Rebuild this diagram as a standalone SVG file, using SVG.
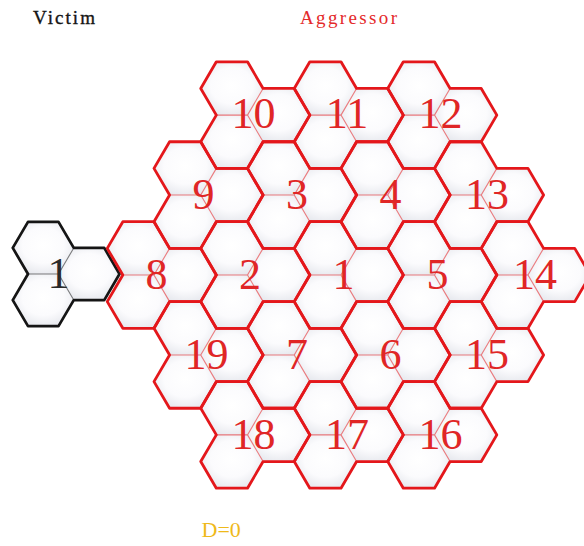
<svg xmlns="http://www.w3.org/2000/svg" xmlns:xlink="http://www.w3.org/1999/xlink" width="584" height="546" viewBox="0 0 584 546">
  <style>
    .outline { fill: none; stroke: currentColor; stroke-width: 2.8; stroke-linejoin: round; }
    .inner { fill: none; stroke: currentColor; stroke-width: 1.1; opacity: 0.55; }
    .red { color: #e4171b; }
    .black { color: #151515; }
    .num { font-family: "Liberation Serif", "Times New Roman", serif; font-size: 44px; text-anchor: middle; fill: #e02626; }
    .num.v { fill: #2a2a2a; }
    .label { font-family: "Liberation Serif", "Times New Roman", serif; font-size: 19px; }
  </style>
  <defs>
    <radialGradient id="cellShade" cx="50%" cy="45%" r="62%">
      <stop offset="0" stop-color="#ffffff"/>
      <stop offset="0.55" stop-color="#fbfbfd"/>
      <stop offset="1" stop-color="#e3e5eb"/>
    </radialGradient>
    <!-- three-sector site: origin at the common vertex of the three hexagons -->
    <g id="tri-fill" fill="url(#cellShade)">
      <polygon points="-46.755,-26.65 -31.17,-53.3 0,-53.3 15.585,-26.65 0,0 -31.17,0"/>
      <polygon points="-46.755,26.65 -31.17,0 0,0 15.585,26.65 0,53.3 -31.17,53.3"/>
      <polygon points="0,0 15.585,-26.65 46.755,-26.65 62.34,0 46.755,26.65 15.585,26.65"/>
    </g>
    <g id="tri-edges">
      <path class="inner" d="M-31.17,0 H0 M15.585,-26.65 L0,0 L15.585,26.65"/>
      <path class="outline" d="M-31.17,-53.3 H0 L15.585,-26.65 H46.755 L62.34,0 L46.755,26.65 H15.585 L0,53.3 H-31.17 L-46.755,26.65 L-31.17,0 L-46.755,-26.65 Z"/>
    </g>
  </defs>

  <rect width="584" height="546" fill="#ffffff"/>

  <text class="label" x="33" y="24" textLength="62" lengthAdjust="spacing" fill="#151515" stroke="#151515" stroke-width="0.35">Victim</text>
  <text class="label" x="300" y="24" textLength="97" lengthAdjust="spacing" fill="#e42a2a">Aggressor</text>

  <!-- shading of every cell, drawn underneath all outlines -->
  <g id="cell-fills">
    <use xlink:href="#tri-fill" transform="translate(58.5,274) scale(0.9785)"/>
    <use xlink:href="#tri-fill" transform="translate(247.5,115.1)"/>
    <use xlink:href="#tri-fill" transform="translate(341,115.1)"/>
    <use xlink:href="#tri-fill" transform="translate(434.5,115.1)"/>
    <use xlink:href="#tri-fill" transform="translate(200.75,195.05)"/>
    <use xlink:href="#tri-fill" transform="translate(294.25,195.05)"/>
    <use xlink:href="#tri-fill" transform="translate(387.75,195.05)"/>
    <use xlink:href="#tri-fill" transform="translate(481.25,195.05)"/>
    <use xlink:href="#tri-fill" transform="translate(154,275)"/>
    <use xlink:href="#tri-fill" transform="translate(247.5,275)"/>
    <use xlink:href="#tri-fill" transform="translate(341,275)"/>
    <use xlink:href="#tri-fill" transform="translate(434.5,275)"/>
    <use xlink:href="#tri-fill" transform="translate(528,275)"/>
    <use xlink:href="#tri-fill" transform="translate(200.75,354.95)"/>
    <use xlink:href="#tri-fill" transform="translate(294.25,354.95)"/>
    <use xlink:href="#tri-fill" transform="translate(387.75,354.95)"/>
    <use xlink:href="#tri-fill" transform="translate(481.25,354.95)"/>
    <use xlink:href="#tri-fill" transform="translate(247.5,434.9)"/>
    <use xlink:href="#tri-fill" transform="translate(341,434.9)"/>
    <use xlink:href="#tri-fill" transform="translate(434.5,434.9)"/>
  </g>

  <!-- victim site -->
  <g id="victim-1">
    <use xlink:href="#tri-edges" class="black" transform="translate(58.5,274) scale(0.9785)"/>
    <text class="num v" x="58.5" y="288">1</text>
  </g>

  <!-- aggressor sites -->
  <g id="site-10"><use xlink:href="#tri-edges" class="red" transform="translate(247.5,115.1)"/><text class="num" x="253.5" y="128">10</text></g>
  <g id="site-11"><use xlink:href="#tri-edges" class="red" transform="translate(341,115.1)"/><text class="num" x="347" y="128">11</text></g>
  <g id="site-12"><use xlink:href="#tri-edges" class="red" transform="translate(434.5,115.1)"/><text class="num" x="440.5" y="128">12</text></g>

  <g id="site-9"><use xlink:href="#tri-edges" class="red" transform="translate(200.75,195.05)"/><text class="num" x="203.5" y="209">9</text></g>
  <g id="site-3"><use xlink:href="#tri-edges" class="red" transform="translate(294.25,195.05)"/><text class="num" x="297" y="209">3</text></g>
  <g id="site-4"><use xlink:href="#tri-edges" class="red" transform="translate(387.75,195.05)"/><text class="num" x="390.5" y="209">4</text></g>
  <g id="site-13"><use xlink:href="#tri-edges" class="red" transform="translate(481.25,195.05)"/><text class="num" x="487" y="209">13</text></g>

  <g id="site-8"><use xlink:href="#tri-edges" class="red" transform="translate(154,275)"/><text class="num" x="156.5" y="289">8</text></g>
  <g id="site-2"><use xlink:href="#tri-edges" class="red" transform="translate(247.5,275)"/><text class="num" x="250" y="289">2</text></g>
  <g id="site-1"><use xlink:href="#tri-edges" class="red" transform="translate(341,275)"/><text class="num" x="343.5" y="289">1</text></g>
  <g id="site-5"><use xlink:href="#tri-edges" class="red" transform="translate(434.5,275)"/><text class="num" x="437.5" y="289">5</text></g>
  <g id="site-14"><use xlink:href="#tri-edges" class="red" transform="translate(528,275)"/><text class="num" x="535" y="289">14</text></g>

  <g id="site-19"><use xlink:href="#tri-edges" class="red" transform="translate(200.75,354.95)"/><text class="num" x="206.5" y="369">19</text></g>
  <g id="site-7"><use xlink:href="#tri-edges" class="red" transform="translate(294.25,354.95)"/><text class="num" x="297" y="369">7</text></g>
  <g id="site-6"><use xlink:href="#tri-edges" class="red" transform="translate(387.75,354.95)"/><text class="num" x="390.5" y="369">6</text></g>
  <g id="site-15"><use xlink:href="#tri-edges" class="red" transform="translate(481.25,354.95)"/><text class="num" x="487" y="369">15</text></g>

  <g id="site-18"><use xlink:href="#tri-edges" class="red" transform="translate(247.5,434.9)"/><text class="num" x="253.5" y="449">18</text></g>
  <g id="site-17"><use xlink:href="#tri-edges" class="red" transform="translate(341,434.9)"/><text class="num" x="347" y="449">17</text></g>
  <g id="site-16"><use xlink:href="#tri-edges" class="red" transform="translate(434.5,434.9)"/><text class="num" x="440.5" y="449">16</text></g>

  <text x="201.5" y="537" font-family="'Liberation Serif', 'Times New Roman', serif" font-size="22" fill="#efb91a">D=0</text>
</svg>
